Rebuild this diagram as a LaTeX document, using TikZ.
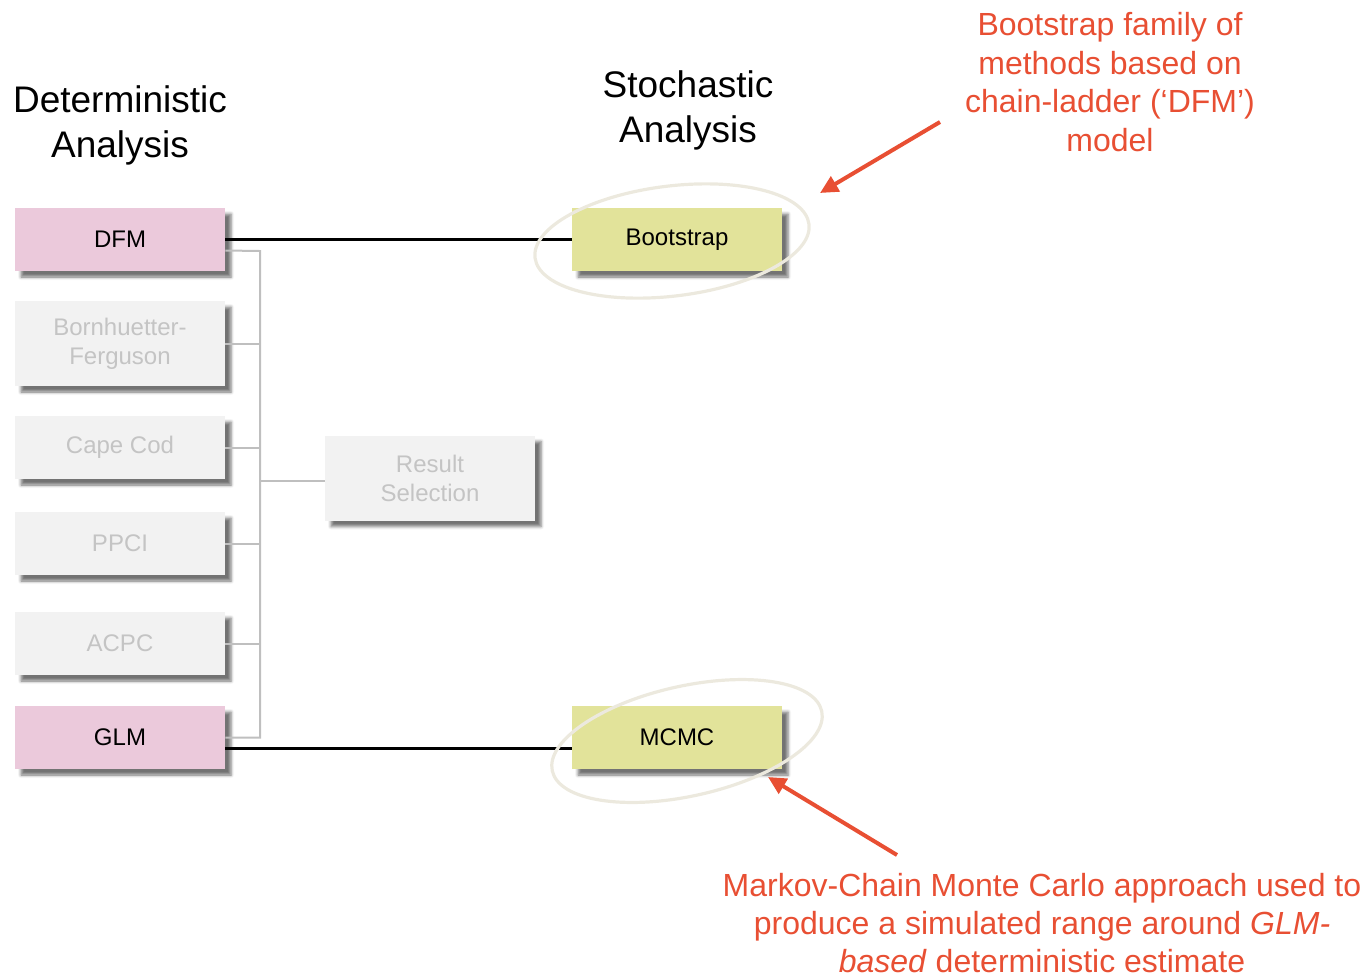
\documentclass[tikz,border=0pt]{standalone}
\usepackage{fontspec}
\setmainfont{Liberation Sans}
\usetikzlibrary{shadows.blur,arrows.meta}
\definecolor{pinkfill}{HTML}{EBC9DB}
\definecolor{yellowfill}{HTML}{E2E39A}
\definecolor{greyfill}{HTML}{F2F2F2}
\definecolor{greytext}{HTML}{C4C4C4}
\definecolor{linkgrey}{HTML}{BFBFBF}
\definecolor{ringcol}{HTML}{ECE9DE}
\definecolor{notered}{HTML}{E84F33}
\begin{document}
\begin{tikzpicture}[x=0.5pt,y=-0.5pt,
  box/.style={rectangle, minimum width=105pt, minimum height=31.5pt, inner sep=2pt,
    align=center, font=\fontsize{12}{14.5}\selectfont,
    blur shadow={shadow xshift=3pt, shadow yshift=-3pt, shadow blur radius=1.5pt, shadow opacity=55}},
  keybox/.style={box, fill=pinkfill, text=black},
  stochbox/.style={box, fill=yellowfill, text=black},
  dimbox/.style={box, fill=greyfill, text=greytext},
  tallbox/.style={minimum height=42.5pt},
  heading/.style={align=center, font=\fontsize{18.5}{22.5}\selectfont, text=black},
  note/.style={align=center, font=\fontsize{16}{19.2}\selectfont, text=notered},
  link/.style={draw=linkgrey, line width=1pt},
  mainlink/.style={draw=black, line width=1.5pt},
  ring/.style={draw=ringcol, line width=1.6pt},
  pointer/.style={draw=notered, line width=2pt, -{Triangle[length=9pt,width=8.5pt]}}]
\useasboundingbox (0,0) rectangle (1366,976);

% column headings
\node[heading] (dethead) at (120,125) {Deterministic\\Analysis};
\node[heading] (stohead) at (688,110) {Stochastic\\Analysis};

% deterministic methods
\node[keybox] (dfm) at (120,239.5) {DFM};
\node[dimbox, tallbox] (bf) at (120,343.5) {Bornhuetter-\\Ferguson};
\node[dimbox] (cc) at (120,447.5) {Cape Cod};
\node[dimbox] (ppci) at (120,543.5) {PPCI};
\node[dimbox] (acpc) at (120,643.5) {ACPC};
\node[keybox] (glm) at (120,737.5) {GLM};
\node[dimbox, tallbox] (res) at (430,478) {Result\\Selection};

% stochastic methods
\node[stochbox] (boot) at (677,239.5) {Bootstrap};
\node[stochbox] (mcmc) at (677,737.5) {MCMC};

% grey tree feeding the result selection
\coordinate (trunktop) at (260,251);
\coordinate (trunkbot) at (260,737.5);
\draw[link] ([yshift=-5.5pt]dfm.east) -- (trunktop) -- (trunkbot) -- (glm.east);
\draw[link] (bf.east) -- (bf.east -| trunktop);
\draw[link] (cc.east) -- (cc.east -| trunktop);
\draw[link] (ppci.east) -- (ppci.east -| trunktop);
\draw[link] (acpc.east) -- (acpc.east -| trunktop);
\draw[link] ([yshift=-1.5pt]res.west) -- ([yshift=-1.5pt]res.west -| trunktop);

% deterministic to stochastic links
\draw[mainlink] (dfm.east) -- (boot.west);
\draw[mainlink] ([yshift=-5.5pt]glm.east) -- ([yshift=-5.5pt]mcmc.west);

% highlight rings (tilted upwards to the right)
\draw[ring] (672,241) ellipse[x radius=138, y radius=55, rotate=7];
\draw[ring] (687,741) ellipse[x radius=138, y radius=55, rotate=12.5];

% annotations
\node[note] (bootnote) at (1110,82) {Bootstrap family of\\methods based on\\chain-ladder (‘DFM’)\\model};
\node[note] (mcmcnote) at (1042,923) {Markov-Chain Monte Carlo approach used to\\produce a simulated range around \textit{GLM-}\\\textit{based} deterministic estimate};
\coordinate (bootfrom) at (940,122);
\coordinate (bootto) at (820,193);
\coordinate (mcmcfrom) at (897,855);
\coordinate (mcmcto) at (768,777);
\draw[pointer] (bootfrom) -- (bootto);
\draw[pointer] (mcmcfrom) -- (mcmcto);
\end{tikzpicture}
\end{document}
